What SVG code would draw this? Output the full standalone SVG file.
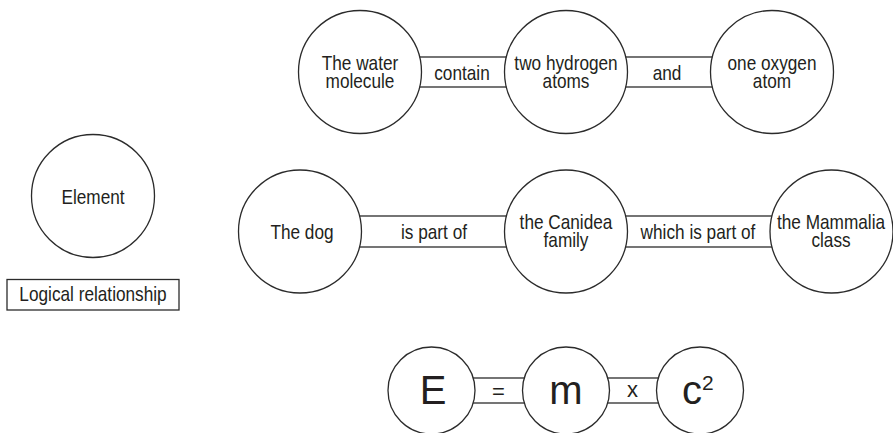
<svg xmlns="http://www.w3.org/2000/svg" width="893" height="433" viewBox="0 0 893 433">
<style>
.node circle{fill:#fff;stroke:#2b2b2b;stroke-width:1.3}
.conn rect{fill:#fff;stroke:#2b2b2b;stroke-width:1.3}
text{font-family:"Liberation Sans",Arial,sans-serif;font-size:21px;fill:#231f20;text-anchor:middle}
.big{font-size:40px}
.op{font-size:22px}
</style>
<rect width="893" height="433" fill="#fff"/>
<g id="connectors">
  <g class="conn" id="c-contain"><rect x="360" y="57" width="206" height="30"/><text transform="translate(462,80) scale(0.82,1)">contain</text></g>
  <g class="conn" id="c-and"><rect x="566" y="57" width="206" height="30"/><text transform="translate(667,80) scale(0.82,1)">and</text></g>
  <g class="conn" id="c-ispartof"><rect x="300" y="216" width="266" height="31"/><text transform="translate(434,239) scale(0.82,1)">is part of</text></g>
  <g class="conn" id="c-whichispartof"><rect x="566" y="216" width="266" height="31"/><text transform="translate(698,239) scale(0.82,1)">which is part of</text></g>
  <g class="conn" id="c-eq"><rect x="432" y="378" width="134" height="25"/><text class="op" x="498.5" y="399">=</text></g>
  <g class="conn" id="c-x"><rect x="566" y="378" width="134" height="25"/><text class="op" x="632.5" y="397">x</text></g>
  <g class="conn" id="legend-relationship"><rect x="7" y="279.5" width="172" height="30.5"/><text transform="translate(93,301) scale(0.82,1)">Logical relationship</text></g>
</g>
<g class="node" id="n-water"><circle cx="360" cy="72" r="61.5"/><text transform="translate(360,70) scale(0.82,1)"><tspan x="0" y="0">The water</tspan><tspan x="0" y="18">molecule</tspan></text></g>
<g class="node" id="n-hydrogen"><circle cx="566" cy="72" r="61.5"/><text transform="translate(566,70) scale(0.82,1)"><tspan x="0" y="0">two hydrogen</tspan><tspan x="0" y="18">atoms</tspan></text></g>
<g class="node" id="n-oxygen"><circle cx="772" cy="72" r="61.5"/><text transform="translate(772,70) scale(0.82,1)"><tspan x="0" y="0">one oxygen</tspan><tspan x="0" y="18">atom</tspan></text></g>
<g class="node" id="n-element"><circle cx="93" cy="196" r="61.5"/><text transform="translate(93,204) scale(0.82,1)">Element</text></g>
<g class="node" id="n-dog"><circle cx="300" cy="231.5" r="61.5"/><text transform="translate(302,239) scale(0.82,1)">The dog</text></g>
<g class="node" id="n-canidea"><circle cx="566" cy="231.5" r="61.5"/><text transform="translate(566,229) scale(0.82,1)"><tspan x="0" y="0">the Canidea</tspan><tspan x="0" y="18">family</tspan></text></g>
<g class="node" id="n-mammalia"><circle cx="831.5" cy="231.5" r="61.5"/><text transform="translate(831,229) scale(0.82,1)"><tspan x="0" y="0">the Mammalia</tspan><tspan x="0" y="18">class</tspan></text></g>
<g class="node" id="n-E"><circle cx="431.5" cy="390.5" r="43.5"/><text class="big" x="433" y="404">E</text></g>
<g class="node" id="n-m"><circle cx="566" cy="390.5" r="43.5"/><text class="big" x="566" y="404">m</text></g>
<g class="node" id="n-c2"><circle cx="700" cy="390.5" r="43.5"/><text class="big" x="682" y="404" style="text-anchor:start">c<tspan dy="-14" font-size="21">2</tspan></text></g>
</svg>
